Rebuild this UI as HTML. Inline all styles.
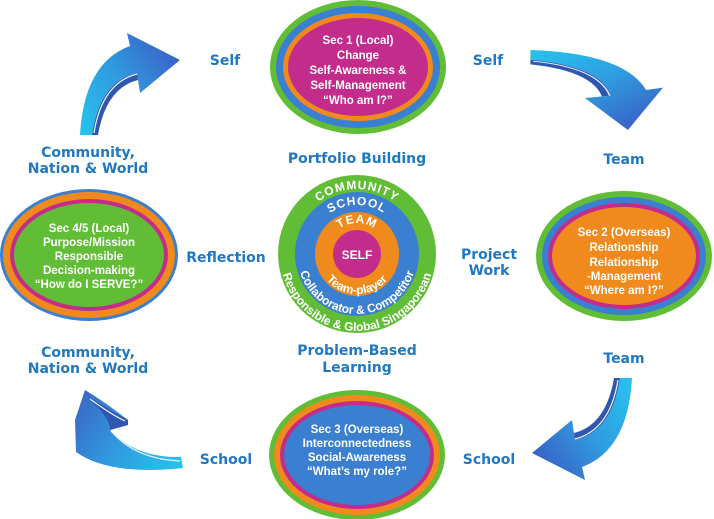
<!DOCTYPE html>
<html><head><meta charset="utf-8"><style>
html,body{margin:0;padding:0;background:#fff}
svg{display:block}
.l{font-family:"DejaVu Sans","Liberation Sans",sans-serif;font-weight:bold;fill:#1f78c1;font-size:14px;text-anchor:middle}
.e{font-family:"Liberation Sans",sans-serif;font-weight:bold;fill:#fff;font-size:11.5px;text-anchor:middle}
.r{font-family:"Liberation Sans",sans-serif;font-weight:bold;fill:#fff;font-size:12px}
</style></head><body>
<svg width="714" height="519" viewBox="0 0 714 519" xmlns="http://www.w3.org/2000/svg">
<defs>
<linearGradient id="g" gradientUnits="userSpaceOnUse" x1="0" y1="102" x2="100" y2="27">
<stop offset="0" stop-color="#27c3ee"/><stop offset="0.5" stop-color="#2f9ee0"/><stop offset="1" stop-color="#3a62c8"/></linearGradient>
<linearGradient id="g2" gradientUnits="userSpaceOnUse" x1="182" y1="466" x2="80" y2="400">
<stop offset="0" stop-color="#27c3ee"/><stop offset="0.5" stop-color="#2f9ee0"/><stop offset="1" stop-color="#3a6ac8"/></linearGradient>
<g id="arr">
<path d="M0,102 Q4,30 50,13 L47,0 L100,27 L60,60 L57,40 Q20,48 12,102 Z" fill="url(#g)"/>
<path d="M57,40 L58,47 Q26,55 18,102 L12,102 Q20,48 57,40 Z" fill="#2f57b0"/>
<path d="M14,100 Q22,50 57,41" fill="none" stroke="#e8f4ff" stroke-width="1.2"/>
</g>
<path id="c1" d="M292,254 A65,65 0 0 1 422,254"/>
<path id="c2" d="M308,254 A49,49 0 0 1 406,254"/>
<path id="c3" d="M326,254 A31,31 0 0 1 388,254"/>
<path id="b3" d="M317,254 A40,40 0 0 0 397,254"/>
<path id="b2" d="M297,254 A60,60 0 0 0 417,254"/>
<path id="b1" d="M280,254 A77,77 0 0 0 434,254"/>
</defs>

<use href="#arr" transform="translate(80,33)"/>
<use href="#arr" transform="translate(663,50) scale(1.3,0.8) rotate(90)"/>
<use href="#arr" transform="translate(632,480) rotate(180)"/>
<!-- bottom-left arrow -->
<path d="M183,468 L181,457 Q135,458 110,430 L128,425 L128,420 Q105,402 85,390 L75,420 L76,452 Q110,476 183,468 Z" fill="url(#g2)"/>
<path d="M110,430 L128,425 L128,420 Q110,410 90,398 L92,402 Q110,418 110,430 Z" fill="#2f57b0"/>
<path d="M90,399 Q112,415 125,421" fill="none" stroke="#e8f4ff" stroke-width="1.2"/>
<path d="M111,431 Q135,459 180,461" fill="none" stroke="#e8f4ff" stroke-width="1.2"/>

<!-- top ellipse -->
<ellipse cx="358" cy="67" rx="88" ry="67" fill="#62bd36"/>
<ellipse cx="358" cy="67" rx="82" ry="61" fill="#3a7fd0"/>
<ellipse cx="358" cy="67" rx="75" ry="54" fill="#f08a1c"/>
<ellipse cx="358" cy="67" rx="70" ry="49" fill="#c42c8c"/>
<text class="e" x="358" y="44">Sec 1 (Local)</text>
<text class="e" x="358" y="59">Change</text>
<text class="e" x="358" y="74">Self-Awareness &amp;</text>
<text class="e" x="358" y="89">Self-Management</text>
<text class="e" x="358" y="104">“Who am I?”</text>

<!-- right ellipse -->
<ellipse cx="624" cy="256" rx="88" ry="65" fill="#62bd36"/>
<ellipse cx="624" cy="256" rx="82" ry="59" fill="#3a7fd0"/>
<ellipse cx="624" cy="256" rx="76" ry="53" fill="#c42c8c"/>
<ellipse cx="624" cy="256" rx="72" ry="49" fill="#f08a1c"/>
<text class="e" x="624" y="236">Sec 2 (Overseas)</text>
<text class="e" x="624" y="251">Relationship</text>
<text class="e" x="624" y="266">Relationship</text>
<text class="e" x="624" y="280">-Management</text>
<text class="e" x="624" y="294">“Where am I?”</text>

<!-- left ellipse -->
<ellipse cx="89" cy="255" rx="89" ry="66" fill="#3a7fd0"/>
<ellipse cx="89" cy="255" rx="86" ry="63" fill="#f08a1c"/>
<ellipse cx="89" cy="255" rx="79" ry="56" fill="#c42c8c"/>
<ellipse cx="89" cy="255" rx="75" ry="52" fill="#62bd36"/>
<text class="e" x="89" y="232">Sec 4/5 (Local)</text>
<text class="e" x="89" y="246">Purpose/Mission</text>
<text class="e" x="89" y="260">Responsible</text>
<text class="e" x="89" y="274">Decision-making</text>
<text class="e" x="89" y="288">“How do I SERVE?”</text>

<!-- bottom ellipse -->
<ellipse cx="357" cy="455" rx="88" ry="65" fill="#62bd36"/>
<ellipse cx="357" cy="455" rx="83" ry="60" fill="#f08a1c"/>
<ellipse cx="357" cy="455" rx="77" ry="54" fill="#c42c8c"/>
<ellipse cx="357" cy="455" rx="73" ry="50" fill="#3a7fd0"/>
<text class="e" x="357" y="433">Sec 3 (Overseas)</text>
<text class="e" x="357" y="447">Interconnectedness</text>
<text class="e" x="357" y="461">Social-Awareness</text>
<text class="e" x="357" y="475">“What’s my role?”</text>

<!-- center -->
<circle cx="357" cy="254" r="79" fill="#62bd36"/>
<circle cx="357" cy="254" r="62" fill="#3a7fd0"/>
<circle cx="357" cy="254" r="42" fill="#f08a1c"/>
<circle cx="357" cy="254" r="24" fill="#c42c8c"/>
<text class="r" x="357" y="259" text-anchor="middle" font-size="13">SELF</text>
<text class="r" font-size="13" letter-spacing="1"><textPath href="#c1" startOffset="50%" text-anchor="middle">COMMUNITY</textPath></text>
<text class="r" font-size="13" letter-spacing="1"><textPath href="#c2" startOffset="50%" text-anchor="middle">SCHOOL</textPath></text>
<text class="r" font-size="13" letter-spacing="1"><textPath href="#c3" startOffset="50%" text-anchor="middle">TEAM</textPath></text>
<text class="r" font-size="11"><textPath href="#b3" startOffset="50%" text-anchor="middle">Team-player</textPath></text>
<text class="r" font-size="11"><textPath href="#b2" startOffset="50%" text-anchor="middle">Collaborator &amp; Competitor</textPath></text>
<text class="r" font-size="11"><textPath href="#b1" startOffset="50%" text-anchor="middle">Responsible &amp; Global Singaporean</textPath></text>

<!-- labels -->
<text class="l" x="225" y="65">Self</text>
<text class="l" x="488" y="65">Self</text>
<text class="l" x="357" y="163">Portfolio Building</text>
<text class="l" x="624" y="164">Team</text>
<text class="l" x="88" y="157">Community,</text>
<text class="l" x="88" y="173">Nation &amp; World</text>
<text class="l" x="226" y="262">Reflection</text>
<text class="l" x="489" y="259">Project</text>
<text class="l" x="489" y="275">Work</text>
<text class="l" x="88" y="357">Community,</text>
<text class="l" x="88" y="373">Nation &amp; World</text>
<text class="l" x="357" y="355">Problem-Based</text>
<text class="l" x="357" y="372">Learning</text>
<text class="l" x="624" y="363">Team</text>
<text class="l" x="226" y="464">School</text>
<text class="l" x="489" y="464">School</text>
</svg>
</body></html>
